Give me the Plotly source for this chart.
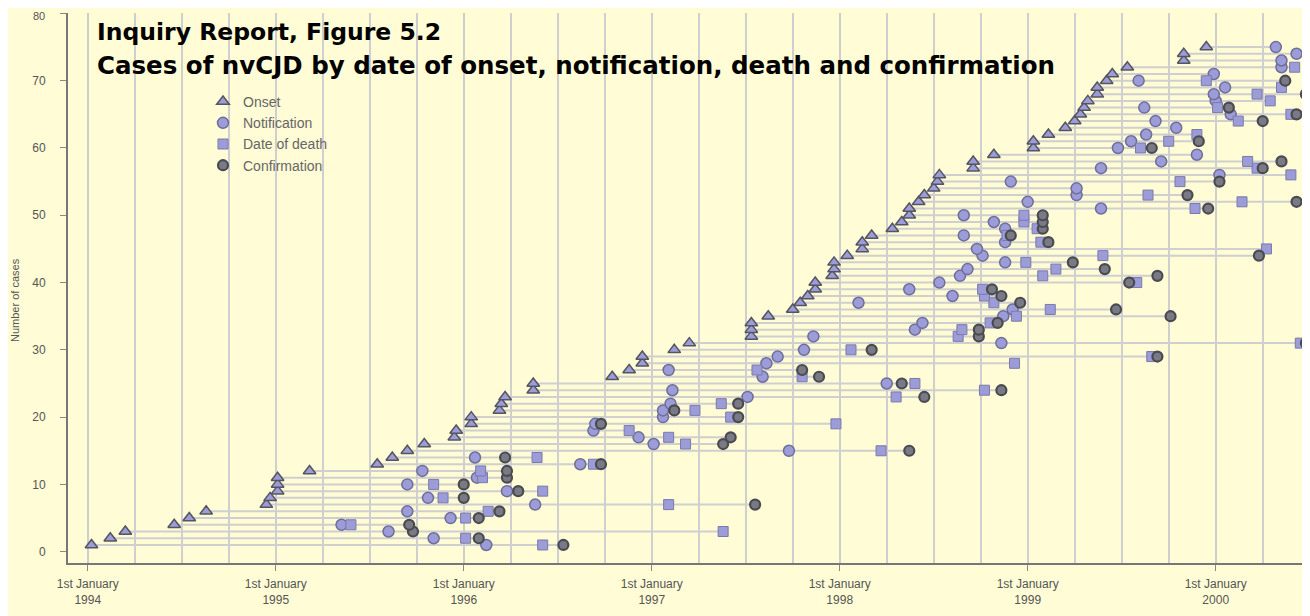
import plotly.graph_objects as go

# Case numbers 1..75 (row on the y axis)
case_no = list(range(1, 76))

# Dates as decimal years
onset = [1994.02, 1994.12, 1994.20, 1994.46, 1994.54, 1994.63, 1994.95, 1994.97, 1995.01, 1995.01,
         1995.01, 1995.18, 1995.54, 1995.62, 1995.70, 1995.79, 1995.95, 1995.96, 1996.04, 1996.04,
         1996.19, 1996.20, 1996.22, 1996.37, 1996.37, 1996.79, 1996.88, 1996.95, 1996.95, 1997.12,
         1997.20, 1997.53, 1997.53, 1997.53, 1997.62, 1997.75, 1997.79, 1997.83, 1997.87, 1997.87,
         1997.96, 1997.97, 1997.97, 1998.04, 1998.12, 1998.12, 1998.17, 1998.28, 1998.33, 1998.37,
         1998.37, 1998.42, 1998.45, 1998.50, 1998.52, 1998.53, 1998.71, 1998.71, 1998.82, 1999.03,
         1999.03, 1999.11, 1999.20, 1999.25, 1999.28, 1999.30, 1999.32, 1999.37, 1999.37, 1999.42,
         1999.45, 1999.53, 1999.83, 1999.83, 1999.95]

notification = [1996.12, 1995.84, 1995.60, 1995.35, 1995.93, 1995.70, 1996.38, 1995.81, 1996.23, 1995.70,
                1996.07, 1995.78, 1996.62, 1996.06, 1997.73, 1997.01, 1996.93, 1996.69, 1996.70, 1997.06,
                1997.06, 1997.10, 1997.51, 1997.11, 1998.25, 1997.59, 1997.09, 1997.61, 1997.67, 1997.81,
                1998.86, 1997.86, 1998.40, 1998.44, 1998.87, 1998.92, 1998.10, 1998.60, 1998.37, 1998.53,
                1998.64, 1998.68, 1998.88, 1998.76, 1998.73, 1998.88, 1998.66, 1998.88, 1998.82, 1998.66,
                1999.39, 1999.00, 1999.26, 1999.26, 1998.91, 2000.02, 1999.39, 1999.71, 1999.90, 1999.48,
                1999.55, 1999.63, 1999.79, 1999.68, 2000.08, 1999.62, 2000.00, 1999.99, 2000.05, 1999.59,
                1999.99, 2000.35, 2000.35, 2000.43, 2000.32]

death = [1996.42, 1996.01, 1997.38, 1995.40, 1996.01, 1996.13, 1997.09, 1995.89, 1996.42, 1995.84,
         1996.10, 1996.09, 1996.69, 1996.39, 1998.22, 1997.18, 1997.09, 1996.88, 1997.98, 1997.42,
         1997.23, 1997.37, 1998.30, 1998.77, 1998.40, 1997.80, 1997.56, 1998.93, 1999.66, 1998.06,
         2000.45, 1998.63, 1998.65, 1998.80, 1998.94, 1999.12, 1998.82, 1998.77, 1998.76, 1999.58,
         1999.08, 1999.15, 1998.99, 1999.40, 2000.27, 1999.07, 1998.89, 1999.05, 1998.98, 1998.98,
         1999.89, 2000.14, 1999.64, None, 1999.81, 2000.40, 2000.22, 2000.17, None, 1999.60,
         1999.75, 1999.90, None, 2000.12, 2000.40, 2000.01, 2000.29, 2000.22, 2000.35, 1999.95,
         None, 2000.42, None, None, None]

confirmation = [1996.53, 1996.08, 1995.73, 1995.71, 1996.08, 1996.19, 1997.55, 1996.00, 1996.29, 1996.00,
                1996.23, 1996.23, 1996.73, 1996.22, 1998.37, 1997.38, 1997.42, None, 1996.73, 1997.46,
                1997.12, 1997.46, 1998.45, 1998.86, 1998.33, 1997.89, 1997.80, None, 1999.69, 1998.17,
                2000.48, 1998.74, 1998.74, 1998.84, 1999.76, 1999.47, 1998.96, 1998.86, 1998.81, 1999.54,
                1999.69, 1999.41, 1999.24, 2000.23, None, 1999.11, 1998.91, 1999.08, 1999.08, 1999.08,
                1999.96, 2000.43, 1999.85, None, 2000.02, None, 2000.25, 2000.35, None, 1999.66,
                1999.91, None, None, 2000.25, 2000.43, 2000.07, None, 2000.48, None, 2000.37,
                None, None, None, None, None]

years = [1994, 1995, 1996, 1997, 1998, 1999, 2000]
year_labels = ["1st January<br>%d" % y for y in years]
y_ticks = [0, 10, 20, 30, 40, 50, 60, 70, 80]
series_names = ["Onset", "Notification", "Date of death", "Confirmation"]

BG = "#FFFCD6"
GRID = "#CFCFCF"
PURPLE = "#9C9CD8"
DARK = "#55555F"

# the page body adds an 8px offset; figure is sized to fill the rest of the window
OFF = 8
FW, FH = 1310 - OFF, 616 - OFF
L, R, T, B = 60, 2, 5, 53
PW, PH = FW - L - R, FH - T - B

# horizontal connector lines, one per case: from onset to the last known event
lx, ly = [], []
for i, n in enumerate(case_no):
    vals = [v for v in (onset[i], notification[i], death[i], confirmation[i]) if v is not None]
    lx += [min(vals), max(vals), None]
    ly += [n, n, None]

fig = go.Figure()
fig.add_trace(go.Scatter(x=lx, y=ly, mode="lines", line=dict(color=GRID, width=2),
                         hoverinfo="skip", showlegend=False))

def pts(xs):
    px, py = [], []
    for i, v in enumerate(xs):
        if v is not None:
            px.append(v)
            py.append(case_no[i])
    return px, py

styles = [
    (onset, dict(symbol="triangle-up", size=11, color=PURPLE, line=dict(color=DARK, width=1.5))),
    (notification, dict(symbol="circle", size=11, color=PURPLE, line=dict(color="#6E6E9A", width=1.5))),
    (death, dict(symbol="square", size=10, color=PURPLE, line=dict(color="#7A7AAA", width=1))),
    (confirmation, dict(symbol="circle", size=10, color="#7A7A84", line=dict(color="#4A4A52", width=2.2))),
]
for name, (xs, mk) in zip(series_names, styles):
    px, py = pts(xs)
    fig.add_trace(go.Scatter(x=px, y=py, mode="markers", name=name, marker=mk))

# window pixel -> paper coordinate helpers
def paper_x(wx):
    return (wx - OFF - L) / PW

def paper_y(wy):
    return (FH - B - (wy - OFF)) / PH

# the topmost tick label sits at the very top edge, so it is drawn as an annotation
y_ticktext = [str(v) for v in y_ticks[:-1]] + [""]

fig.update_layout(
    width=FW, height=FH,
    paper_bgcolor=BG, plot_bgcolor=BG,
    margin=dict(l=L, r=R, t=T, b=B, autoexpand=False),
    font=dict(family="Liberation Sans, Arial, sans-serif", color="#555555"),
    showlegend=True,
    legend=dict(x=paper_x(203), y=paper_y(86), xanchor="left", yanchor="top", bgcolor="rgba(0,0,0,0)",
                font=dict(size=14, color="#666666"), itemsizing="trace", tracegroupgap=0),
    xaxis=dict(range=[1993.895, 2000.491], tickmode="array", tickvals=years, ticktext=year_labels,
               automargin=False, ticklabelstandoff=3,
               showgrid=True, gridcolor=GRID, gridwidth=2,
               minor=dict(tick0=1994, dtick=0.25, showgrid=True, gridcolor=GRID, gridwidth=2, ticks=""),
               ticks="outside", ticklen=6, tickcolor="#888888", tickwidth=1,
               showline=True, linecolor="#777777", linewidth=2,
               tickfont=dict(size=12, color="#555555"), zeroline=False),
    yaxis=dict(range=[-1.68, 80.06], tickmode="array", tickvals=y_ticks, ticktext=y_ticktext,
               showgrid=False, zeroline=False,
               automargin=False, ticklabelstandoff=12,
               ticks="outside", ticklen=6, tickcolor="#888888", tickwidth=1,
               showline=True, linecolor="#777777", linewidth=2,
               tickfont=dict(size=12, color="#555555")),
)

fig.add_annotation(xref="paper", yref="y", x=paper_x(47), y=y_ticks[-1], yshift=-3,
                   xanchor="right", yanchor="middle", showarrow=False,
                   text=str(y_ticks[-1]), font=dict(size=11, color="#555555"))
fig.add_annotation(xref="paper", yref="paper", x=paper_x(95), y=paper_y(32),
                   xanchor="left", yanchor="middle", showarrow=False,
                   text="<b>Inquiry Report, Figure 5.2</b>",
                   font=dict(size=23.5, color="#000000", family="DejaVu Sans, sans-serif"))
fig.add_annotation(xref="paper", yref="paper", x=paper_x(95), y=paper_y(66),
                   xanchor="left", yanchor="middle", showarrow=False,
                   text="<b>Cases of nvCJD by date of onset, notification, death and confirmation</b>",
                   font=dict(size=24.5, color="#000000", family="DejaVu Sans, sans-serif"))
fig.add_annotation(xref="paper", yref="paper", x=paper_x(15), y=paper_y(300),
                   xanchor="center", yanchor="middle", showarrow=False, textangle=-90,
                   text="Number of cases", font=dict(size=11, color="#555555"))

fig.write_html("out.html")
